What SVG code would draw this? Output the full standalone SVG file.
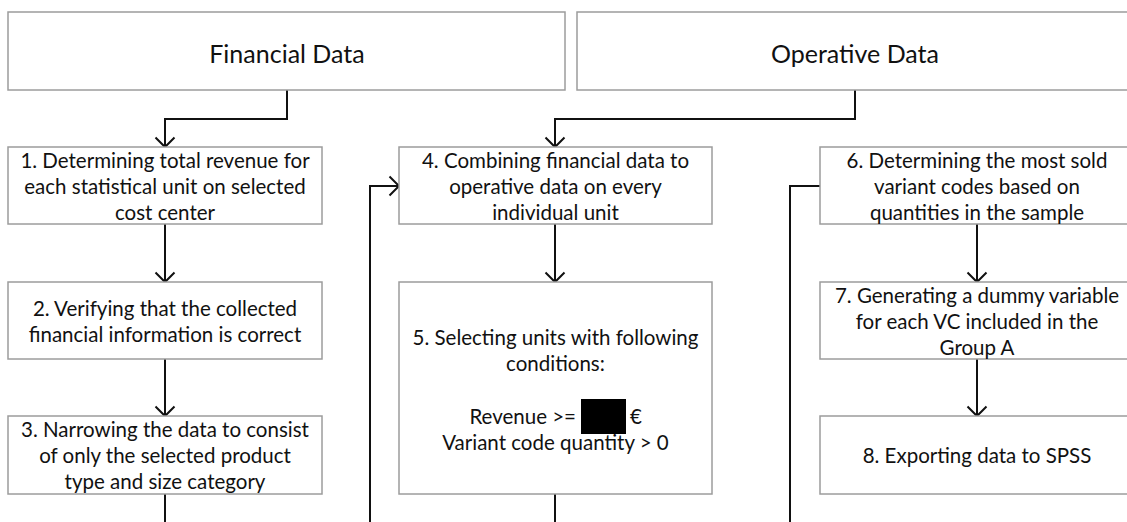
<svg xmlns="http://www.w3.org/2000/svg" width="1127" height="522" viewBox="0 0 1127 522">
<defs>
<style>
.box{fill:#fff;stroke:#9c9c9c;stroke-width:1.5}
.t{font-family:"Lato","Liberation Sans",sans-serif;font-size:20.5px;fill:#111;text-anchor:middle;dominant-baseline:central}
.h{font-family:"Lato","Liberation Sans",sans-serif;font-size:25px;fill:#111;text-anchor:middle;dominant-baseline:central}
.c{fill:none;stroke:#111;stroke-width:2}
</style>
<marker id="arr" viewBox="-12 -12 24 24" markerWidth="24" markerHeight="24" refX="0" refY="0" orient="auto" markerUnits="userSpaceOnUse">
<path d="M-9.5,-9.5 L0,0 L-9.5,9.5" fill="none" stroke="#111" stroke-width="2"/>
</marker>
</defs>
<rect width="1127" height="522" fill="#fff"/>

<g id="connectors">
<path class="c" d="M287,90 V119 H165 V147" marker-end="url(#arr)"/>
<path class="c" d="M855,90 V119 H555 V147" marker-end="url(#arr)"/>
<path class="c" d="M165,224 V282" marker-end="url(#arr)"/>
<path class="c" d="M165,359 V416" marker-end="url(#arr)"/>
<path class="c" d="M165,494 V522"/>
<path class="c" d="M370,522 V186 H399" marker-end="url(#arr)"/>
<path class="c" d="M555,224 V282" marker-end="url(#arr)"/>
<path class="c" d="M555,494 V522"/>
<path class="c" d="M790,522 V186 H820"/>
<path class="c" d="M977,224 V282" marker-end="url(#arr)"/>
<path class="c" d="M977,359 V416" marker-end="url(#arr)"/>
</g>

<g id="financial-data">
<rect class="box" x="8" y="12" width="557" height="78"/>
<text class="h" x="287" y="53">Financial Data</text>
</g>
<g id="operative-data">
<rect class="box" x="577" y="12" width="557" height="78"/>
<text class="h" x="855" y="53">Operative Data</text>
</g>

<g id="step1">
<rect class="box" x="8" y="147" width="314" height="77"/>
<text class="t" x="165" y="160">1. Determining total revenue for</text>
<text class="t" x="165" y="186">each statistical unit on selected</text>
<text class="t" x="165" y="212">cost center</text>
</g>
<g id="step2">
<rect class="box" x="8" y="282" width="314" height="77"/>
<text class="t" x="165" y="307.5">2. Verifying that the collected</text>
<text class="t" x="165" y="333.5">financial information is correct</text>
</g>
<g id="step3">
<rect class="box" x="8" y="416" width="314" height="78"/>
<text class="t" x="165" y="429">3. Narrowing the data to consist</text>
<text class="t" x="165" y="455">of only the selected product</text>
<text class="t" x="165" y="481">type and size category</text>
</g>

<g id="step4">
<rect class="box" x="399" y="147" width="313" height="77"/>
<text class="t" x="555.5" y="160">4. Combining financial data to</text>
<text class="t" x="555.5" y="186">operative data on every</text>
<text class="t" x="555.5" y="212">individual unit</text>
</g>
<g id="step5">
<rect class="box" x="399" y="282" width="313" height="212"/>
<text class="t" x="555.5" y="337">5. Selecting units with following</text>
<text class="t" x="555.5" y="363">conditions:</text>
<text class="t" x="576" y="416" style="text-anchor:end">Revenue &gt;=</text>
<rect x="581" y="399" width="45" height="35" fill="#000"/>
<text class="t" x="630" y="416" style="text-anchor:start">€</text>
<text class="t" x="555.5" y="442">Variant code quantity &gt; 0</text>
</g>

<g id="step6">
<rect class="box" x="820" y="147" width="314" height="77"/>
<text class="t" x="977" y="160">6. Determining the most sold</text>
<text class="t" x="977" y="186">variant codes based on</text>
<text class="t" x="977" y="212">quantities in the sample</text>
</g>
<g id="step7">
<rect class="box" x="820" y="282" width="314" height="77"/>
<text class="t" x="977" y="295">7. Generating a dummy variable</text>
<text class="t" x="977" y="321">for each VC included in the</text>
<text class="t" x="977" y="347">Group A</text>
</g>
<g id="step8">
<rect class="box" x="820" y="416" width="314" height="78"/>
<text class="t" x="977" y="455">8. Exporting data to SPSS</text>
</g>
</svg>
